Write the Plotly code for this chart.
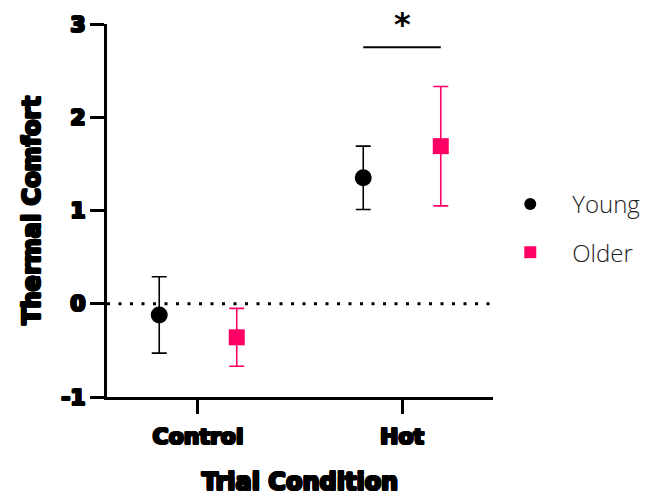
import plotly.graph_objects as go

# Thermal comfort by trial condition and age group (mean ± SD)
conditions = ["Control", "Hot"]
young_mean = [-0.12, 1.35]
young_sd = [0.41, 0.34]
older_mean = [-0.36, 1.69]
older_sd = [0.31, 0.64]

y_ticks = [-1, 0, 1, 2, 3]
y_tick_labels = ["-1", "0", "1", "2", "3"]
PINK = "#ff0066"

# heavy, slightly rounded lettering for the axes: bold face thickened with a ring of shadows
_ring = ["1px 0 0 black", "-1px 0 0 black", "0 1px 0 black", "0 -1px 0 black",
         "1px 1px 0 black", "-1px -1px 0 black", "1px -1px 0 black", "-1px 1px 0 black"]
TICK_FONT = dict(family="DejaVu Sans", size=22, color="black", weight="bold",
                 shadow=", ".join(_ring))
TITLE_FONT = dict(TICK_FONT, size=24)

fig = go.Figure()
fig.add_trace(go.Scatter(
    x=conditions, y=young_mean, name="Young", mode="markers",
    offsetgroup="young", legendgroup="young",
    marker=dict(symbol="circle", size=17, color="black"),
    error_y=dict(type="data", array=young_sd, visible=True,
                 color="black", thickness=1.6, width=7.5),
))
fig.add_trace(go.Scatter(
    x=conditions, y=older_mean, name="Older", mode="markers",
    offsetgroup="older", legendgroup="older",
    marker=dict(symbol="square", size=16, color=PINK),
    error_y=dict(type="data", array=older_sd, visible=True,
                 color=PINK, thickness=1.6, width=7.5),
))

# dotted reference line at zero
fig.add_shape(type="line", xref="paper", x0=0, x1=1, yref="y", y0=0, y1=0,
              line=dict(color="black", width=3, dash="3px,8.5px"))

# significance bracket over the Hot condition
fig.add_shape(type="line", xref="x", x0=0.81, x1=1.19, yref="y", y0=2.75, y1=2.75,
              line=dict(color="black", width=2))
fig.add_annotation(x=1, y=3.0, xref="x", yref="y", text="*", showarrow=False,
                   font=dict(family="DejaVu Sans", size=32, color="black", weight="bold"),
                   yanchor="middle")

fig.update_layout(
    width=645, height=497,
    margin=dict(l=107, r=152, t=24, b=100, autoexpand=False),
    paper_bgcolor="white", plot_bgcolor="white",
    scattermode="group", scattergap=0.24,
    showlegend=True,
    legend=dict(xref="container", yref="container", x=0.757, xanchor="left",
                y=0.634, yanchor="top",
                font=dict(family="Open Sans", size=24, color="#222222", weight=300),
                tracegroupgap=14, itemsizing="constant", itemwidth=74),
)
fig.update_xaxes(
    type="category", range=[-0.446, 1.446],
    showline=True, linecolor="black", linewidth=3,
    ticks="outside", ticklen=14, tickwidth=3, tickcolor="black",
    tickfont=TICK_FONT, ticklabelstandoff=4, showgrid=False, zeroline=False,
    title=dict(text="Trial Condition", font=TITLE_FONT, standoff=25),
)
fig.update_yaxes(
    range=[-1, 3], tickvals=y_ticks, ticktext=y_tick_labels,
    showline=True, linecolor="black", linewidth=3,
    ticks="outside", ticklen=14, tickwidth=3, tickcolor="black",
    tickfont=TICK_FONT, showgrid=False, zeroline=False,
    title=dict(text="Thermal Comfort", font=TITLE_FONT, standoff=14),
)

fig.write_html("out.html")
